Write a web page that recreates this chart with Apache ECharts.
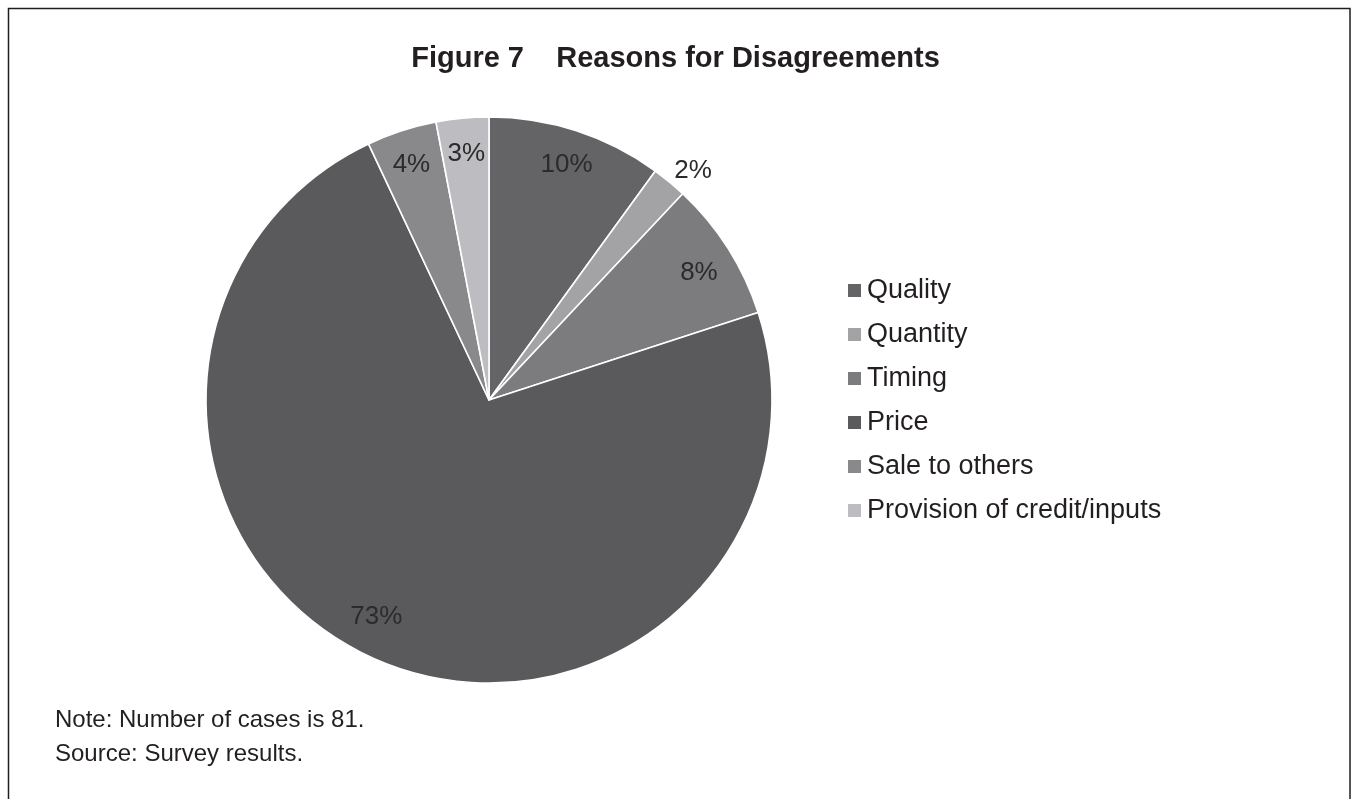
<!DOCTYPE html>
<html>
<head>
<meta charset="utf-8">
<title>Figure 7 Reasons for Disagreements</title>
<script src="https://cdn.jsdelivr.net/npm/echarts@6/dist/echarts.min.js"></script>
<style>
  html, body { margin: 0; padding: 0; background: #ffffff; }
  #chart { width: 1351px; height: 799px; }
</style>
</head>
<body>
<div id="chart"></div>
<script>
// Reasons for disagreements, share of cases (%)
const categories = ['Quality', 'Quantity', 'Timing', 'Price', 'Sale to others', 'Provision of credit/inputs'];
const shares = [10, 2, 8, 73, 4, 3];
const sliceColors = ['#646466', '#a3a3a6', '#7c7c7f', '#5a5a5c', '#89898c', '#bdbdc1'];

const titleText = 'Figure 7    Reasons for Disagreements';
const noteLines = ['Note: Number of cases is 81.', 'Source: Survey results.'];

const FONT = '"Liberation Sans", Arial, Helvetica, sans-serif';
const CENTER = [489, 400];
const RADIUS = 283;

// labels sit a little below the mid-radius ring; a few need extra nudges
const LABEL_DROP = 4;
const labelNudge = { 1: [44, -40], 2: [-2, 3], 3: [-13, -18], 5: [1, 0] };

const pieData = categories.map((name, i) => ({
  name: name,
  value: shares[i],
  itemStyle: { color: sliceColors[i] }
}));

const labelData = categories.map((name, i) => ({ name: name, value: shares[i] }));

const chart = echarts.init(document.getElementById('chart'), null, { renderer: 'canvas' });

chart.setOption({
  backgroundColor: '#ffffff',
  animation: false,
  title: [
    {
      text: titleText,
      left: 'center',
      top: 44,
      padding: 0,
      textStyle: { fontFamily: FONT, fontSize: 29, fontWeight: 'bold', color: '#231f20', lineHeight: 30 }
    },
    {
      text: noteLines.join('\n'),
      left: 55,
      top: 703,
      padding: 0,
      textStyle: { fontFamily: FONT, fontSize: 24, fontWeight: 'normal', color: '#231f20', lineHeight: 34 }
    }
  ],
  legend: {
    orient: 'vertical',
    left: 846,
    top: 277,
    padding: 0,
    icon: 'rect',
    itemWidth: 15,
    itemHeight: 15,
    itemGap: 17,
    selectedMode: false,
    data: categories,
    textStyle: { fontFamily: FONT, fontSize: 27, color: '#231f20', lineHeight: 27 }
  },
  graphic: [
    {
      type: 'rect',
      silent: true,
      shape: { x: 8.5, y: 8.5, width: 1341.5, height: 900 },
      style: { fill: 'none', stroke: '#1e1e1e', lineWidth: 1.5 }
    }
  ],
  series: [
    {
      type: 'pie',
      center: CENTER,
      radius: [0, RADIUS],
      startAngle: 90,
      clockwise: true,
      avoidLabelOverlap: false,
      silent: true,
      label: { show: false },
      labelLine: { show: false },
      itemStyle: { borderColor: '#ffffff', borderWidth: 1.6 },
      data: pieData
    },
    {
      // transparent ring carrying the percentage labels
      type: 'pie',
      center: CENTER,
      radius: [213, RADIUS],
      startAngle: 90,
      clockwise: true,
      avoidLabelOverlap: false,
      silent: true,
      itemStyle: { color: 'rgba(0,0,0,0)', borderWidth: 0 },
      label: {
        show: true,
        position: 'inside',
        formatter: '{c}%',
        fontFamily: FONT,
        fontSize: 26,
        color: '#2b2b2b'
      },
      labelLine: { show: false },
      labelLayout: function (params) {
        const n = labelNudge[params.dataIndex] || [0, 0];
        return { dx: n[0], dy: n[1] + LABEL_DROP };
      },
      data: labelData
    }
  ]
});
</script>
</body>
</html>
